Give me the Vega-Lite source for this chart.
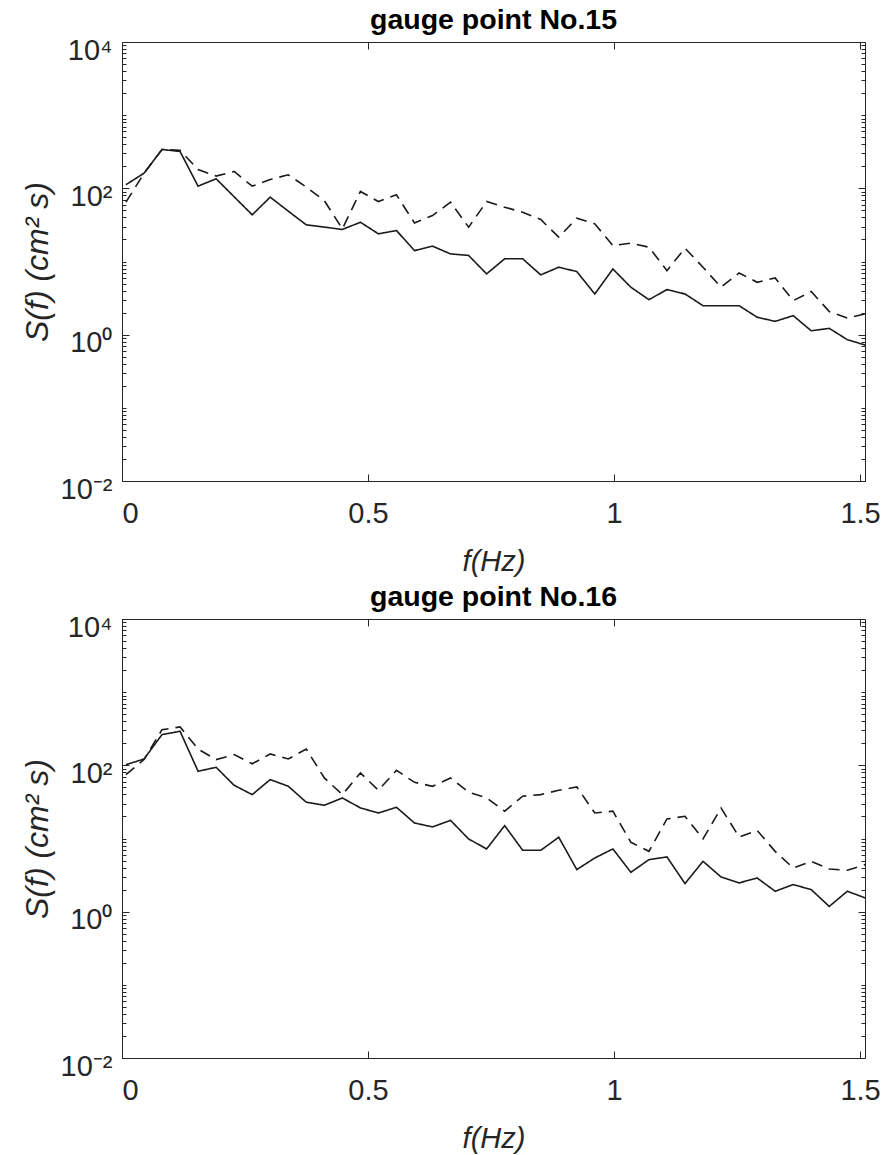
{
  "$schema": "https://vega.github.io/schema/vega-lite/v6.json",
  "background": "white",
  "padding": {"left": 20, "top": 5, "right": 10, "bottom": 2},
  "spacing": 5,
  "datasets": {
    "p15": [
      {"f": 0.008, "A": 112, "B": 64.7},
      {"f": 0.0447, "A": 161, "B": 160},
      {"f": 0.0813, "A": 340, "B": 340},
      {"f": 0.118, "A": 319, "B": 330},
      {"f": 0.1546, "A": 107, "B": 181},
      {"f": 0.1913, "A": 135, "B": 147},
      {"f": 0.2279, "A": 76.6, "B": 170},
      {"f": 0.2646, "A": 43.5, "B": 107},
      {"f": 0.3012, "A": 75.7, "B": 132},
      {"f": 0.3379, "A": 48.8, "B": 153},
      {"f": 0.3745, "A": 31.7, "B": 104},
      {"f": 0.4112, "A": 29.5, "B": 68},
      {"f": 0.4478, "A": 27.4, "B": 27.9},
      {"f": 0.4845, "A": 34.4, "B": 90.6},
      {"f": 0.5211, "A": 23.9, "B": 66},
      {"f": 0.5578, "A": 26.5, "B": 81.5},
      {"f": 0.5944, "A": 14.1, "B": 33.7},
      {"f": 0.6311, "A": 16.2, "B": 42.5},
      {"f": 0.6677, "A": 12.7, "B": 64.7},
      {"f": 0.7044, "A": 12.1, "B": 29.4},
      {"f": 0.741, "A": 6.77, "B": 66},
      {"f": 0.7777, "A": 10.9, "B": 55.2},
      {"f": 0.8143, "A": 10.9, "B": 47.2},
      {"f": 0.851, "A": 6.56, "B": 37.5},
      {"f": 0.8876, "A": 8.36, "B": 21.5},
      {"f": 0.9243, "A": 7.28, "B": 39.1},
      {"f": 0.9609, "A": 3.6, "B": 32.7},
      {"f": 0.9976, "A": 7.9, "B": 16.5},
      {"f": 1.0342, "A": 4.45, "B": 17.8},
      {"f": 1.0709, "A": 3.01, "B": 15.7},
      {"f": 1.1075, "A": 4.13, "B": 7.5},
      {"f": 1.1442, "A": 3.6, "B": 15.2},
      {"f": 1.1808, "A": 2.49, "B": 8.35},
      {"f": 1.2175, "A": 2.49, "B": 4.45},
      {"f": 1.2541, "A": 2.49, "B": 6.98},
      {"f": 1.2908, "A": 1.73, "B": 5.2},
      {"f": 1.3274, "A": 1.52, "B": 5.97},
      {"f": 1.3641, "A": 1.82, "B": 2.92},
      {"f": 1.4007, "A": 1.13, "B": 3.88},
      {"f": 1.4374, "A": 1.22, "B": 2.07},
      {"f": 1.474, "A": 0.855, "B": 1.69},
      {"f": 1.5107, "A": 0.72, "B": 1.92}
    ],
    "p16": [
      {"f": 0.008, "A": 102, "B": 74.6},
      {"f": 0.0447, "A": 122, "B": 120},
      {"f": 0.0813, "A": 263, "B": 307},
      {"f": 0.118, "A": 292, "B": 335},
      {"f": 0.1546, "A": 83, "B": 167},
      {"f": 0.1913, "A": 94, "B": 120},
      {"f": 0.2279, "A": 53.3, "B": 140},
      {"f": 0.2646, "A": 39.8, "B": 105},
      {"f": 0.3012, "A": 63.8, "B": 143},
      {"f": 0.3379, "A": 51.8, "B": 122},
      {"f": 0.3745, "A": 31.3, "B": 167},
      {"f": 0.4112, "A": 28.5, "B": 67.3},
      {"f": 0.4478, "A": 35.8, "B": 39.8},
      {"f": 0.4845, "A": 26.2, "B": 78.7},
      {"f": 0.5211, "A": 22.3, "B": 45.6},
      {"f": 0.5578, "A": 26.7, "B": 85.5},
      {"f": 0.5944, "A": 16.3, "B": 58.6},
      {"f": 0.6311, "A": 14.4, "B": 51.7},
      {"f": 0.6677, "A": 17.7, "B": 67.3},
      {"f": 0.7044, "A": 9.86, "B": 42.9},
      {"f": 0.741, "A": 7.2, "B": 35.8},
      {"f": 0.7777, "A": 15.0, "B": 23.6},
      {"f": 0.8143, "A": 6.9, "B": 37.8},
      {"f": 0.851, "A": 6.9, "B": 39.8},
      {"f": 0.8876, "A": 10.4, "B": 45.6},
      {"f": 0.9243, "A": 3.76, "B": 50.6},
      {"f": 0.9609, "A": 5.42, "B": 22.3},
      {"f": 0.9976, "A": 7.2, "B": 23.6},
      {"f": 1.0342, "A": 3.45, "B": 8.87},
      {"f": 1.0709, "A": 5.14, "B": 6.68},
      {"f": 1.1075, "A": 5.6, "B": 18.5},
      {"f": 1.1442, "A": 2.42, "B": 20.1},
      {"f": 1.1808, "A": 4.88, "B": 9.86},
      {"f": 1.2175, "A": 2.98, "B": 26.1},
      {"f": 1.2541, "A": 2.47, "B": 10.5},
      {"f": 1.2908, "A": 2.89, "B": 12.9},
      {"f": 1.3274, "A": 1.9, "B": 6.68},
      {"f": 1.3641, "A": 2.35, "B": 3.95},
      {"f": 1.4007, "A": 2.0, "B": 4.88},
      {"f": 1.4374, "A": 1.18, "B": 3.83},
      {"f": 1.474, "A": 1.9, "B": 3.68},
      {"f": 1.5107, "A": 1.54, "B": 4.4}
    ]
  },
  "vconcat": [
    {
      "title": {"text": "gauge point No.15"},
      "width": 743,
      "height": 439,
      "data": {"name": "p15"},
      "transform": [{"fold": ["A", "B"], "as": ["series", "S"]}],
      "resolve": {"axis": {"x": "independent", "y": "independent"}},
      "layer": [
        {
          "mark": {"type": "line", "color": "#1a1a1a", "strokeWidth": 1.6, "clip": true},
          "encoding": {
            "x": {"field": "f", "type": "quantitative", "scale": {"domain": [0, 1.51], "nice": false, "zero": false},
              "axis": {"orient": "bottom", "values": [0, 0.5, 1, 1.5], "format": ".2~f", "ticks": false, "title": "f(Hz)"}},
            "y": {"field": "S", "type": "quantitative", "scale": {"type": "log", "domain": [0.01, 10000], "nice": false},
              "axis": {"orient": "left", "values": [0.01, 1, 100, 10000], "ticks": false, "title": "S(f) (cm² s)",
                "labelExpr": "datum.value >= 5000 ? '10⁴' : datum.value >= 50 ? '10²' : datum.value >= 0.5 ? '10⁰' : '10⁻²'"}},
            "strokeDash": {"field": "series", "type": "nominal", "scale": {"domain": ["A", "B"], "range": [[1, 0], [11, 7]]}, "legend": null}
          }
        },
        {
          "mark": {"type": "point", "opacity": 0},
          "encoding": {
            "x": {"field": "f", "type": "quantitative", "axis": {"orient": "bottom", "values": [0, 0.5, 1, 1.5], "labels": false, "ticks": true, "tickSize": 7, "offset": -7, "title": null}},
            "y": {"field": "S", "type": "quantitative", "axis": {"orient": "left", "values": [0.01, 1, 100, 10000], "labels": false, "ticks": true, "tickSize": 7, "offset": -7, "title": null}}
          }
        },
        {
          "mark": {"type": "point", "opacity": 0},
          "encoding": {
            "x": {"field": "f", "type": "quantitative", "axis": {"orient": "top", "values": [0, 0.5, 1, 1.5], "labels": false, "ticks": true, "tickSize": 7, "offset": -7, "title": null}},
            "y": {"field": "S", "type": "quantitative", "axis": {"orient": "right", "values": [0.01, 1, 100, 10000], "labels": false, "ticks": true, "tickSize": 7, "offset": -7, "title": null}}
          }
        },
        {
          "mark": {"type": "point", "opacity": 0},
          "encoding": {
            "x": {"field": "f", "type": "quantitative", "axis": null},
            "y": {"field": "S", "type": "quantitative", "axis": {"orient": "left", "values": [0.02,0.03,0.04,0.05,0.06,0.07,0.08,0.09,0.1,0.2,0.3,0.4,0.5,0.6,0.7,0.8,0.9,2,3,4,5,6,7,8,9,10,20,30,40,50,60,70,80,90,200,300,400,500,600,700,800,900,1000,2000,3000,4000,5000,6000,7000,8000,9000], "labels": false, "ticks": true, "tickSize": 4, "offset": -4, "title": null}}
          }
        },
        {
          "mark": {"type": "point", "opacity": 0},
          "encoding": {
            "x": {"field": "f", "type": "quantitative", "axis": null},
            "y": {"field": "S", "type": "quantitative", "axis": {"orient": "right", "values": [0.02,0.03,0.04,0.05,0.06,0.07,0.08,0.09,0.1,0.2,0.3,0.4,0.5,0.6,0.7,0.8,0.9,2,3,4,5,6,7,8,9,10,20,30,40,50,60,70,80,90,200,300,400,500,600,700,800,900,1000,2000,3000,4000,5000,6000,7000,8000,9000], "labels": false, "ticks": true, "tickSize": 4, "offset": -4, "title": null}}
          }
        }
      ]
    },
    {
      "title": {"text": "gauge point No.16"},
      "width": 743,
      "height": 439,
      "data": {"name": "p16"},
      "transform": [{"fold": ["A", "B"], "as": ["series", "S"]}],
      "resolve": {"axis": {"x": "independent", "y": "independent"}},
      "layer": [
        {
          "mark": {"type": "line", "color": "#1a1a1a", "strokeWidth": 1.6, "clip": true},
          "encoding": {
            "x": {"field": "f", "type": "quantitative", "scale": {"domain": [0, 1.51], "nice": false, "zero": false},
              "axis": {"orient": "bottom", "values": [0, 0.5, 1, 1.5], "format": ".2~f", "ticks": false, "title": "f(Hz)"}},
            "y": {"field": "S", "type": "quantitative", "scale": {"type": "log", "domain": [0.01, 10000], "nice": false},
              "axis": {"orient": "left", "values": [0.01, 1, 100, 10000], "ticks": false, "title": "S(f) (cm² s)",
                "labelExpr": "datum.value >= 5000 ? '10⁴' : datum.value >= 50 ? '10²' : datum.value >= 0.5 ? '10⁰' : '10⁻²'"}},
            "strokeDash": {"field": "series", "type": "nominal", "scale": {"domain": ["A", "B"], "range": [[1, 0], [11, 7]]}, "legend": null}
          }
        },
        {
          "mark": {"type": "point", "opacity": 0},
          "encoding": {
            "x": {"field": "f", "type": "quantitative", "axis": {"orient": "bottom", "values": [0, 0.5, 1, 1.5], "labels": false, "ticks": true, "tickSize": 7, "offset": -7, "title": null}},
            "y": {"field": "S", "type": "quantitative", "axis": {"orient": "left", "values": [0.01, 1, 100, 10000], "labels": false, "ticks": true, "tickSize": 7, "offset": -7, "title": null}}
          }
        },
        {
          "mark": {"type": "point", "opacity": 0},
          "encoding": {
            "x": {"field": "f", "type": "quantitative", "axis": {"orient": "top", "values": [0, 0.5, 1, 1.5], "labels": false, "ticks": true, "tickSize": 7, "offset": -7, "title": null}},
            "y": {"field": "S", "type": "quantitative", "axis": {"orient": "right", "values": [0.01, 1, 100, 10000], "labels": false, "ticks": true, "tickSize": 7, "offset": -7, "title": null}}
          }
        },
        {
          "mark": {"type": "point", "opacity": 0},
          "encoding": {
            "x": {"field": "f", "type": "quantitative", "axis": null},
            "y": {"field": "S", "type": "quantitative", "axis": {"orient": "left", "values": [0.02,0.03,0.04,0.05,0.06,0.07,0.08,0.09,0.1,0.2,0.3,0.4,0.5,0.6,0.7,0.8,0.9,2,3,4,5,6,7,8,9,10,20,30,40,50,60,70,80,90,200,300,400,500,600,700,800,900,1000,2000,3000,4000,5000,6000,7000,8000,9000], "labels": false, "ticks": true, "tickSize": 4, "offset": -4, "title": null}}
          }
        },
        {
          "mark": {"type": "point", "opacity": 0},
          "encoding": {
            "x": {"field": "f", "type": "quantitative", "axis": null},
            "y": {"field": "S", "type": "quantitative", "axis": {"orient": "right", "values": [0.02,0.03,0.04,0.05,0.06,0.07,0.08,0.09,0.1,0.2,0.3,0.4,0.5,0.6,0.7,0.8,0.9,2,3,4,5,6,7,8,9,10,20,30,40,50,60,70,80,90,200,300,400,500,600,700,800,900,1000,2000,3000,4000,5000,6000,7000,8000,9000], "labels": false, "ticks": true, "tickSize": 4, "offset": -4, "title": null}}
          }
        }
      ]
    }
  ],
  "config": {
    "font": "Liberation Sans",
    "view": {"stroke": "#262626", "strokeWidth": 1},
    "title": {"font": "Liberation Sans", "fontSize": 28.5, "fontWeight": "bold", "color": "#000000", "anchor": "middle", "baseline": "alphabetic", "offset": 2},
    "axis": {
      "grid": false,
      "domain": false,
      "tickColor": "#262626",
      "tickWidth": 1,
      "labelColor": "#262626",
      "labelFont": "Liberation Sans",
      "labelFontSize": 29,
      "titleColor": "#262626",
      "titleFont": "Liberation Sans",
      "titleFontStyle": "italic",
      "titleFontWeight": "normal"
    },
    "axisX": {"labelPadding": 18, "titlePadding": 19, "titleFontSize": 29},
    "axisY": {"labelPadding": 10, "labelOffset": 8, "titlePadding": 6, "titleFontSize": 32}
  }
}
